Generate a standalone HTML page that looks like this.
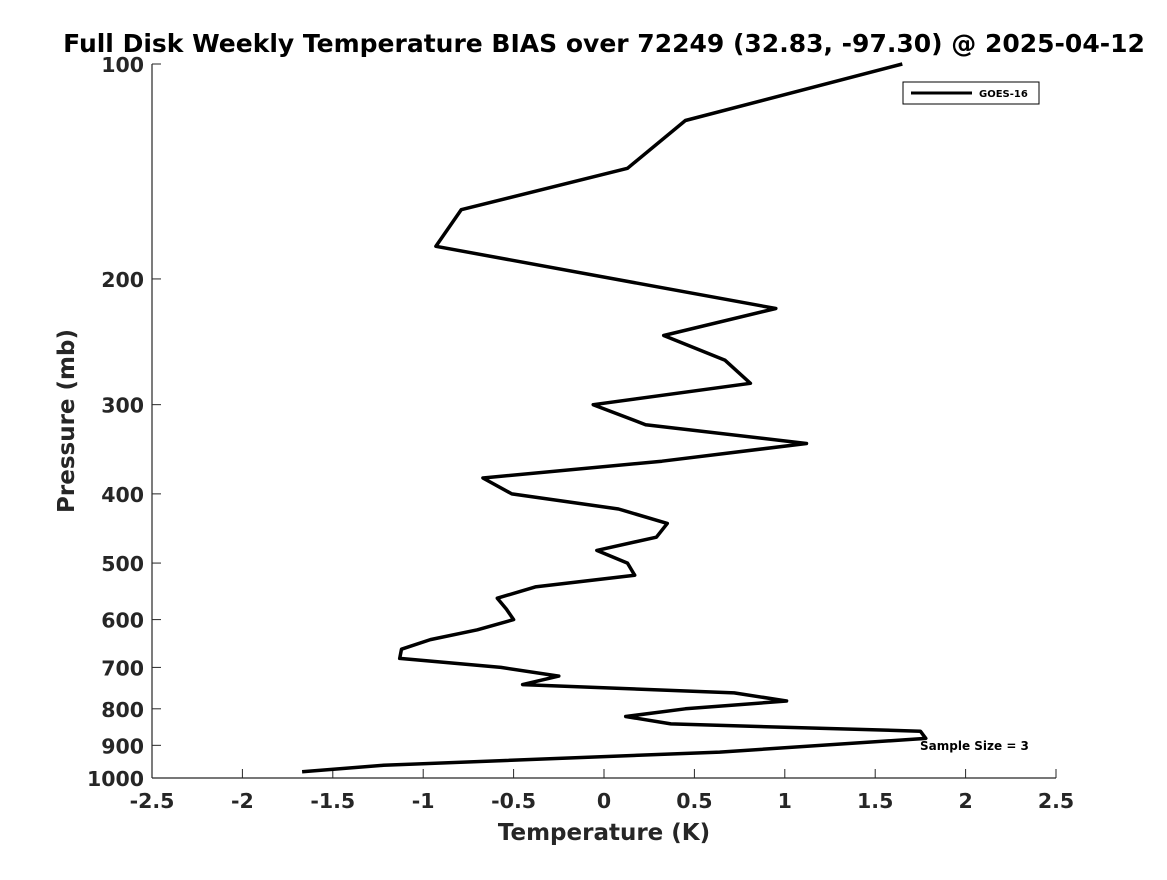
<!DOCTYPE html>
<html><head><meta charset="utf-8"><style>
body{margin:0;background:#fff;}
svg text{font-family:"DejaVu Sans","Liberation Sans",sans-serif;font-weight:bold;fill:#000;}
</style></head><body>
<svg id="chart" width="1167" height="875" viewBox="0 0 1167 875" xmlns="http://www.w3.org/2000/svg">
<rect width="1167" height="875" fill="#fff"/>
<text x="604" y="52" font-size="25" text-anchor="middle">Full Disk Weekly Temperature BIAS over 72249 (32.83, -97.30) @ 2025-04-12</text>
<g id="axes"></g>
<path id="line" fill="none" stroke="#000" stroke-width="3.5" stroke-linejoin="round"/>
<g>
<rect x="903" y="82" width="136" height="22" fill="#fff" stroke="#000" stroke-width="1"/>
<line x1="911" y1="93" x2="972" y2="93" stroke="#000" stroke-width="3"/>
<text x="979" y="97" font-size="10">GOES-16</text>
</g>
<text x="920" y="750" font-size="12">Sample Size = 3</text>
<text x="604" y="840" font-size="23" text-anchor="middle" style="fill:#262626">Temperature (K)</text>
<text transform="translate(74,421) rotate(-90)" font-size="23" text-anchor="middle" style="fill:#262626">Pressure (mb)</text>
</svg>
<script>
const pressures=[100,120,140,160,180,220,240,260,280,300,320,340,360,380,400,420,440,460,480,500,520,540,560,580,600,620,640,660,680,700,720,740,760,780,800,820,840,860,880,920,960,980];
const temps=[1.65,0.45,0.13,-0.79,-0.93,0.95,0.33,0.67,0.81,-0.06,0.23,1.12,0.32,-0.67,-0.51,0.08,0.35,0.29,-0.04,0.13,0.17,-0.38,-0.59,-0.54,-0.5,-0.7,-0.96,-1.12,-1.13,-0.57,-0.25,-0.45,0.72,1.01,0.45,0.12,0.37,1.75,1.78,0.64,-1.22,-1.67];
const xTicks=[-2.5,-2,-1.5,-1,-0.5,0,0.5,1,1.5,2,2.5];
const yTicks=[100,200,300,400,500,600,700,800,900,1000];
const L=152,R=1056,T=64,B=778;
function xs(v){return L+(v+2.5)/5*(R-L);}
function ys(p){return T+Math.log10(p/100)*(B-T);}
const ns="http://www.w3.org/2000/svg";
const g=document.getElementById('axes');
function mk(tag,attrs){const e=document.createElementNS(ns,tag);for(const k in attrs)e.setAttribute(k,attrs[k]);g.appendChild(e);return e;}
let ax=mk('line',{x1:L,y1:B,x2:R,y2:B,stroke:'#262626','stroke-width':1.2});


let ay=mk('line',{x1:L,y1:T,x2:L,y2:B,stroke:'#262626','stroke-width':1.2});


xTicks.forEach(v=>{
 const x=xs(v);
 mk('line',{x1:x,y1:B,x2:x,y2:B-9,stroke:'#262626','stroke-width':1});
 const t=mk('text',{x:x,y:B+30,'font-size':20.5,'text-anchor':'middle',style:'fill:#262626'});
 t.textContent=String(v);
 
 
});
yTicks.forEach(p=>{
 const y=ys(p);
 mk('line',{x1:L,y1:y,x2:L+9,y2:y,stroke:'#262626','stroke-width':1});
 const t=mk('text',{x:L-8,y:y+8,'font-size':20.5,'text-anchor':'end',style:'fill:#262626'});
 t.textContent=String(p);
 
 
});
document.getElementById('line').setAttribute('d',pressures.map((p,i)=>(i?'L':'M')+xs(temps[i]).toFixed(1)+' '+ys(p).toFixed(1)).join(' '));
</script>
</body></html>
